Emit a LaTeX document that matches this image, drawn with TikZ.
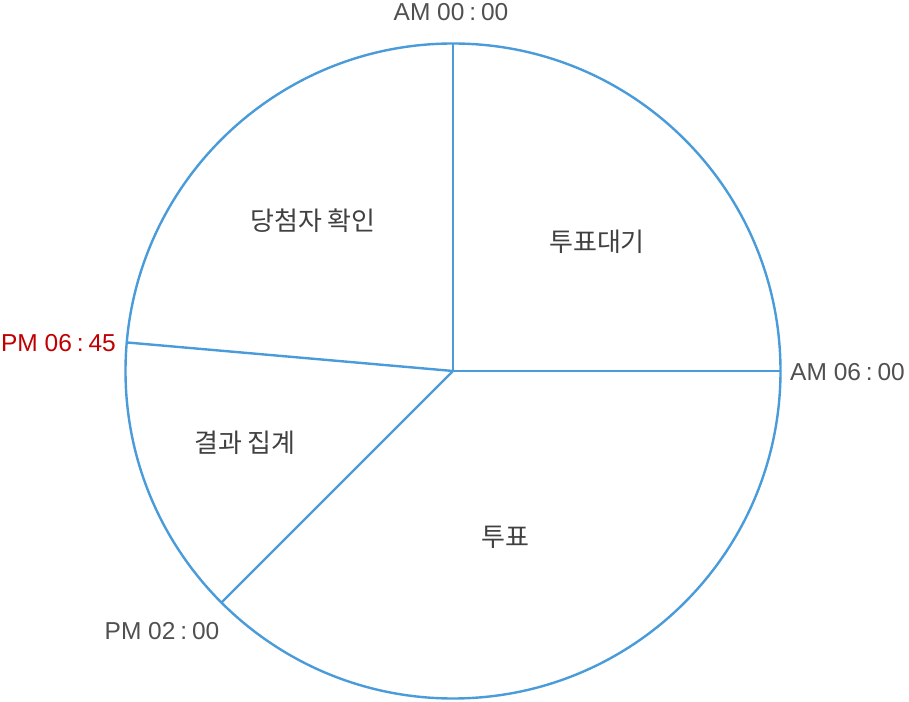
\documentclass[tikz,border=0pt]{standalone}
\usepackage{fontspec}
\usetikzlibrary{calc}
\setmainfont{Liberation Sans}
\newfontfamily\kr{Noto Sans CJK KR}
\definecolor{pieblue}{HTML}{4A9BD9}
\definecolor{txtgray}{HTML}{505050}
\definecolor{txtdark}{HTML}{404040}
\definecolor{txtred}{HTML}{C00000}
\newcommand{\tcolon}{\hspace{.2em}:\hspace{.2em}}
\begin{document}
\begin{tikzpicture}[x=1pt,y=1pt,
  seg/.style={draw=pieblue,line width=2.4pt},
  tlabel/.style={font=\fontsize{24.5}{27}\selectfont,text=txtgray,inner sep=0pt},
  klabel/.style={font=\kr\fontsize{26}{30}\selectfont,text=txtdark,inner sep=0pt}]
\useasboundingbox (0,0) rectangle (909,701);
\coordinate (c) at (453,330);
\draw[seg] (c) circle (327.5);
\coordinate (p0) at ($(c)+(90:327.5)$);
\coordinate (p6) at ($(c)+(0:327.5)$);
\coordinate (p14) at ($(c)+(225:327.5)$);
\coordinate (p18) at ($(c)+(175:327.5)$);
\draw[seg] (c) -- (p0);
\draw[seg] (c) -- (p6);
\draw[seg] (c) -- (p14);
\draw[seg] (c) -- (p18);
\node[tlabel] (l0) at (451,689) {AM 00\tcolon00};
\node[tlabel,anchor=west] (l6) at (790,329) {AM 06\tcolon00};
\node[tlabel,anchor=east,text=txtred] (l18) at (116,358) {PM 06\tcolon45};
\node[tlabel] (l14) at (162,70) {PM 02\tcolon00};
\node[klabel] (k1) at (313,480) {당첨자 확인};
\node[klabel] (k2) at (597,459) {투표대기};
\node[klabel] (k3) at (245,258) {결과 집계};
\node[klabel] (k4) at (505,164) {투표};
\end{tikzpicture}
\end{document}
